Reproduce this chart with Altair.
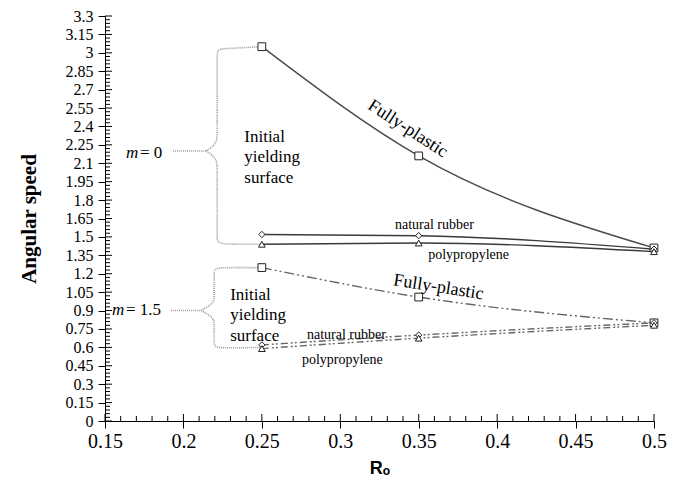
import altair as alt
import pandas as pd

# ---- data ----
R_values = [0.25, 0.35, 0.5]
m0_fully_plastic = [3.05, 2.16, 1.41]
m0_natural_rubber = [1.52, 1.51, 1.40]
m0_polypropylene = [1.44, 1.45, 1.38]
m15_fully_plastic = [1.25, 1.01, 0.80]
m15_natural_rubber = [0.62, 0.70, 0.80]
m15_polypropylene = [0.59, 0.675, 0.78]

x_major = [0.15, 0.2, 0.25, 0.3, 0.35, 0.4, 0.45, 0.5]
y_major = [0, 0.15, 0.3, 0.45, 0.6, 0.75, 0.9, 1.05, 1.2, 1.35, 1.5, 1.65, 1.8,
           1.95, 2.1, 2.25, 2.4, 2.55, 2.7, 2.85, 3, 3.15, 3.3]
x_minor = [round(0.15 + 0.01 * i, 3) for i in range(36) if i % 5 != 0]
y_minor = [round(0.03 * i, 3) for i in range(111) if i % 5 != 0]

# brace annotation paths (x, y control points)
brace0_up_x = [0.1934, 0.2145, 0.2145, 0.2145, 0.2215, 0.2215, 0.2215, 0.2215, 0.228, 0.25]
brace0_up_y = [2.20, 2.20, 2.20, 2.20, 2.26, 2.35, 2.98, 3.03, 3.035, 3.05]
brace0_lo_x = [0.2145, 0.2145, 0.2145, 0.2215, 0.2215, 0.2215, 0.2215, 0.228, 0.25]
brace0_lo_y = [2.20, 2.20, 2.20, 2.14, 2.05, 1.50, 1.45, 1.44, 1.44]
brace15_up_x = [0.1921, 0.2113, 0.2113, 0.2113, 0.2196, 0.2196, 0.2196, 0.2196, 0.226, 0.25]
brace15_up_y = [0.90, 0.90, 0.90, 0.90, 0.96, 1.02, 1.20, 1.245, 1.25, 1.25]
brace15_lo_x = [0.2113, 0.2113, 0.2113, 0.2196, 0.2196, 0.2196, 0.2196, 0.226, 0.25]
brace15_lo_y = [0.90, 0.90, 0.90, 0.84, 0.78, 0.65, 0.60, 0.595, 0.60]

W, H = 549, 405
SERIF = "Liberation Serif"


def series_df(ys, name):
    return pd.DataFrame({"x": R_values, "y": ys, "s": name})


xs = alt.Scale(domain=[0.15, 0.5], nice=False, zero=False)
ys = alt.Scale(domain=[0, 3.3], nice=False, zero=False)

X = alt.X("x:Q", scale=xs, title="Rₒ",
          axis=alt.Axis(values=x_major, format=".3~g", grid=False, tickSize=7,
                        labelPadding=3, labelFontSize=20, labelFont=SERIF, labelFlush=False,
                        titleFont="Liberation Sans", titleFontSize=18, titleFontWeight="bold",
                        titleY=47, titleBaseline="middle"))
Y = alt.Y("y:Q", scale=ys, title="Angular speed",
          axis=alt.Axis(values=y_major, format=".3~g", grid=False, tickSize=7,
                        labelPadding=5, labelFontSize=16, labelFont=SERIF, labelFlush=False,
                        titleFont=SERIF, titleFontSize=21, titleFontWeight="bold",
                        titleX=-76, titleY=H / 2, titleAngle=-90,
                        titleBaseline="middle", titleAlign="center"))

layers = []

# braces
for bx, by in [(brace0_up_x, brace0_up_y), (brace0_lo_x, brace0_lo_y),
               (brace15_up_x, brace15_up_y), (brace15_lo_x, brace15_lo_y)]:
    df = pd.DataFrame({"x": bx, "y": by, "o": list(range(len(bx)))})
    layers.append(alt.Chart(df).mark_line(interpolate="basis", color="#9a9a9a",
                                          strokeWidth=1.6, strokeDash=[1, 1])
                  .encode(x=X, y=Y, order="o:Q"))

# series lines
line_specs = [
    (m0_fully_plastic, "#4a4a4a", None),
    (m0_natural_rubber, "#3a3a3a", None),
    (m0_polypropylene, "#3a3a3a", None),
    (m15_fully_plastic, "#666666", [10, 3, 2, 3, 2, 3]),
    (m15_natural_rubber, "#666666", [7, 3, 2, 2, 2, 3]),
    (m15_polypropylene, "#666666", [7, 3, 2, 2, 2, 3]),
]
for i, (vals, col, dash) in enumerate(line_specs):
    kw = dict(interpolate="monotone", color=col, strokeWidth=1.4)
    if dash:
        kw["strokeDash"] = dash
    layers.append(alt.Chart(series_df(vals, str(i))).mark_line(**kw).encode(x=X, y=Y))

# markers
marker_specs = [
    (m0_fully_plastic, "square", 60),
    (m0_natural_rubber, "diamond", 40),
    (m0_polypropylene, "triangle-up", 45),
    (m15_fully_plastic, "square", 60),
    (m15_natural_rubber, "diamond", 40),
    (m15_polypropylene, "triangle-up", 45),
]
for i, (vals, shape, size) in enumerate(marker_specs):
    layers.append(alt.Chart(series_df(vals, "p" + str(i)))
                  .mark_point(shape=shape, size=size, filled=True, fill="white",
                              stroke="#222222", strokeWidth=1, opacity=1)
                  .encode(x=X, y=Y))

# inner ticks
layers.append(alt.Chart(pd.DataFrame({"y": y_major})).mark_rule(color="black")
              .encode(y=Y, x=alt.value(0), x2=alt.value(7)))
layers.append(alt.Chart(pd.DataFrame({"y": y_minor})).mark_rule(color="black")
              .encode(y=Y, x=alt.value(0), x2=alt.value(5)))
layers.append(alt.Chart(pd.DataFrame({"x": x_major})).mark_rule(color="black")
              .encode(x=X, y=alt.value(H), y2=alt.value(H - 7)))
layers.append(alt.Chart(pd.DataFrame({"x": x_minor})).mark_rule(color="black")
              .encode(x=X, y=alt.value(H), y2=alt.value(H - 5)))

# text annotations
big_text = pd.DataFrame({
    "t": ["Initial", "yielding", "surface", "Initial", "yielding", "surface"],
    "x": [0.2388, 0.2388, 0.2388, 0.2298, 0.2298, 0.2298],
    "y": [2.317, 2.154, 1.984, 1.024, 0.862, 0.691],
})
layers.append(alt.Chart(big_text).mark_text(align="left", baseline="middle", font=SERIF,
                                            fontSize=17, color="black")
              .encode(x=X, y=Y, text="t:N"))

small_text = pd.DataFrame({
    "t": ["natural rubber", "polypropylene", "natural rubber", "polypropylene"],
    "x": [0.360, 0.3818, 0.3039, 0.3013],
    "y": [1.593, 1.350, 0.699, 0.496],
})
layers.append(alt.Chart(small_text).mark_text(align="center", baseline="middle", font=SERIF,
                                              fontSize=14, color="black")
              .encode(x=X, y=Y, text="t:N"))

fp_text = pd.DataFrame({
    "t": ["Fully-plastic", "Fully-plastic"],
    "x": [0.343, 0.3626],
    "y": [2.38, 1.089],
    "a": [33, 9],
})
layers.append(alt.Chart(fp_text).mark_text(align="center", baseline="middle", font=SERIF,
                                           fontSize=18, color="black")
              .encode(x=X, y=Y, text="t:N", angle=alt.Angle("a:Q", scale=None)))

m_text = pd.DataFrame({"t": ["m", "m"], "x": [0.1634, 0.1545], "y": [2.187, 0.902]})
layers.append(alt.Chart(m_text).mark_text(align="left", baseline="middle", font=SERIF,
                                          fontSize=17, fontStyle="italic", color="black")
              .encode(x=X, y=Y, text="t:N"))
eq_text = pd.DataFrame({"t": ["= 0", "= 1.5"], "x": [0.1723, 0.1634], "y": [2.187, 0.902]})
layers.append(alt.Chart(eq_text).mark_text(align="left", baseline="middle", font=SERIF,
                                           fontSize=17, color="black")
              .encode(x=X, y=Y, text="t:N"))

chart = alt.layer(*layers).properties(
    width=W, height=H,
    autosize=alt.AutoSizeParams(type="none"),
    padding={"left": 97, "top": 8, "right": 27, "bottom": 68},
).configure_view(stroke=None).configure_axis(
    domainColor="black", tickColor="black", labelColor="black", titleColor="black"
)

chart.save("out.html", embed_options={"renderer": "svg", "actions": False})
